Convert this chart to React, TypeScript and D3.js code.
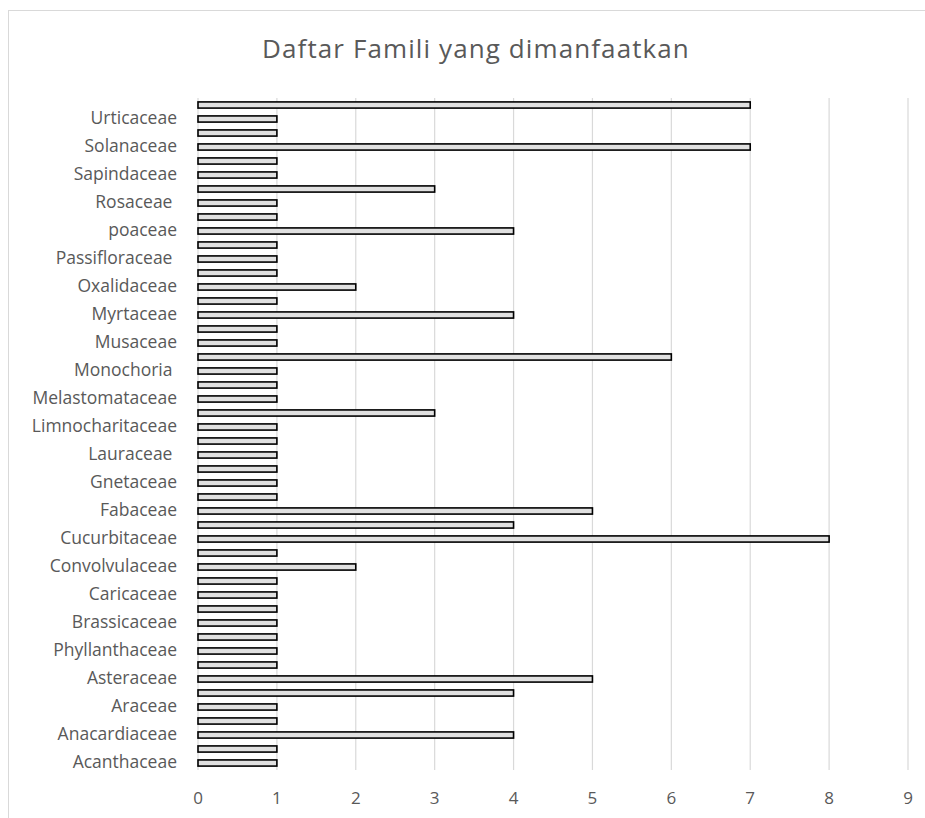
import React from "react";
import * as d3 from "d3";

// families, bottom to top (only every other one gets a label, like the original)
const families = [
  "Acanthaceae", "Amaranthaceae", "Anacardiaceae", "Annonaceae", "Araceae", "Arecaceae",
  "Asteraceae", "Basellaceae", "Phyllanthaceae", "Bixaceae", "Brassicaceae", "Bromeliaceae",
  "Caricaceae", "Clusiaceae", "Convolvulaceae", "Costaceae", "Cucurbitaceae", "Euphorbiaceae",
  "Fabaceae", "Gentianaceae", "Gnetaceae", "Lamiaceae", "Lauraceae ", "Lecythidaceae",
  "Limnocharitaceae", "Malvaceae", "Melastomataceae", "Meliaceae", "Monochoria ", "Moraceae",
  "Musaceae", "Myristicaceae", "Myrtaceae", "Nymphaeaceae", "Oxalidaceae", "Pandanaceae",
  "Passifloraceae ", "Piperaceae", "poaceae", "Polygonaceae", "Rosaceae ", "Rutaceae",
  "Sapindaceae", "Sapotaceae", "Solanaceae", "Theaceae", "Urticaceae", "Zingiberaceae",
];

// values, same order as families
const values = [
  1, 1, 4, 1, 1, 4,
  5, 1, 1, 1, 1, 1,
  1, 1, 2, 1, 8, 4,
  5, 1, 1, 1, 1, 1,
  1, 3, 1, 1, 1, 6,
  1, 1, 4, 1, 2, 1,
  1, 1, 4, 1, 1, 3,
  1, 1, 7, 1, 1, 7,
];

const xTicks = [0, 1, 2, 3, 4, 5, 6, 7, 8, 9];

const W = 925, H = 818;
const margin = { left: 198, right: 17, top: 98, bottom: 48 };
const textColor = "#595959";
const font = "'Open Sans', 'Noto Sans', sans-serif";

export default function App() {
  const x = d3.scaleLinear().domain([0, 9]).range([margin.left, W - margin.right]);
  const y = d3.scaleBand<number>()
    .domain(d3.range(families.length))
    .range([H - margin.bottom, margin.top])
    .paddingInner(0.56)
    .paddingOuter(0.28);

  return (
    <div style={{ position: "absolute", left: 0, top: 0 }}>
      <svg width={W} height={H} style={{ display: "block", background: "#fff" }}>
        {/* chart frame */}
        <rect x={8.5} y={10.5} width={W} height={H} fill="none" stroke="#d9d9d9" />
        <text x={476} y={58} textAnchor="middle"
          fontFamily={font} fontSize={26} letterSpacing={1.1} fill={textColor}>
          Daftar Famili yang dimanfaatkan
        </text>

        {/* vertical gridlines */}
        {xTicks.map(t => (
          <line key={t} x1={x(t)} x2={x(t)} y1={margin.top} y2={H - margin.bottom}
            stroke="#d9d9d9" strokeWidth={1.2} />
        ))}

        {/* bars */}
        {values.map((v, i) => (
          <rect key={i} x={x(0)} y={y(i)} width={x(v) - x(0)} height={y.bandwidth()}
            fill="#e0e0e0" stroke="#000" strokeWidth={1.6} />
        ))}

        {/* category labels, every other one */}
        {families.map((f, i) => i % 2 === 0 ? (
          <text key={f} x={x(0) - 21} y={y(i)! + y.bandwidth() / 2} textAnchor="end"
            dominantBaseline="middle" fontFamily={font} fontSize={17.5} fill={textColor}
            style={{ whiteSpace: "pre" }}>
            {f}
          </text>
        ) : null)}

        {/* x tick labels */}
        {xTicks.map(t => (
          <text key={t} x={x(t)} y={804} textAnchor="middle"
            fontFamily={font} fontSize={17} fill={textColor}>
            {t}
          </text>
        ))}
      </svg>
    </div>
  );
}
